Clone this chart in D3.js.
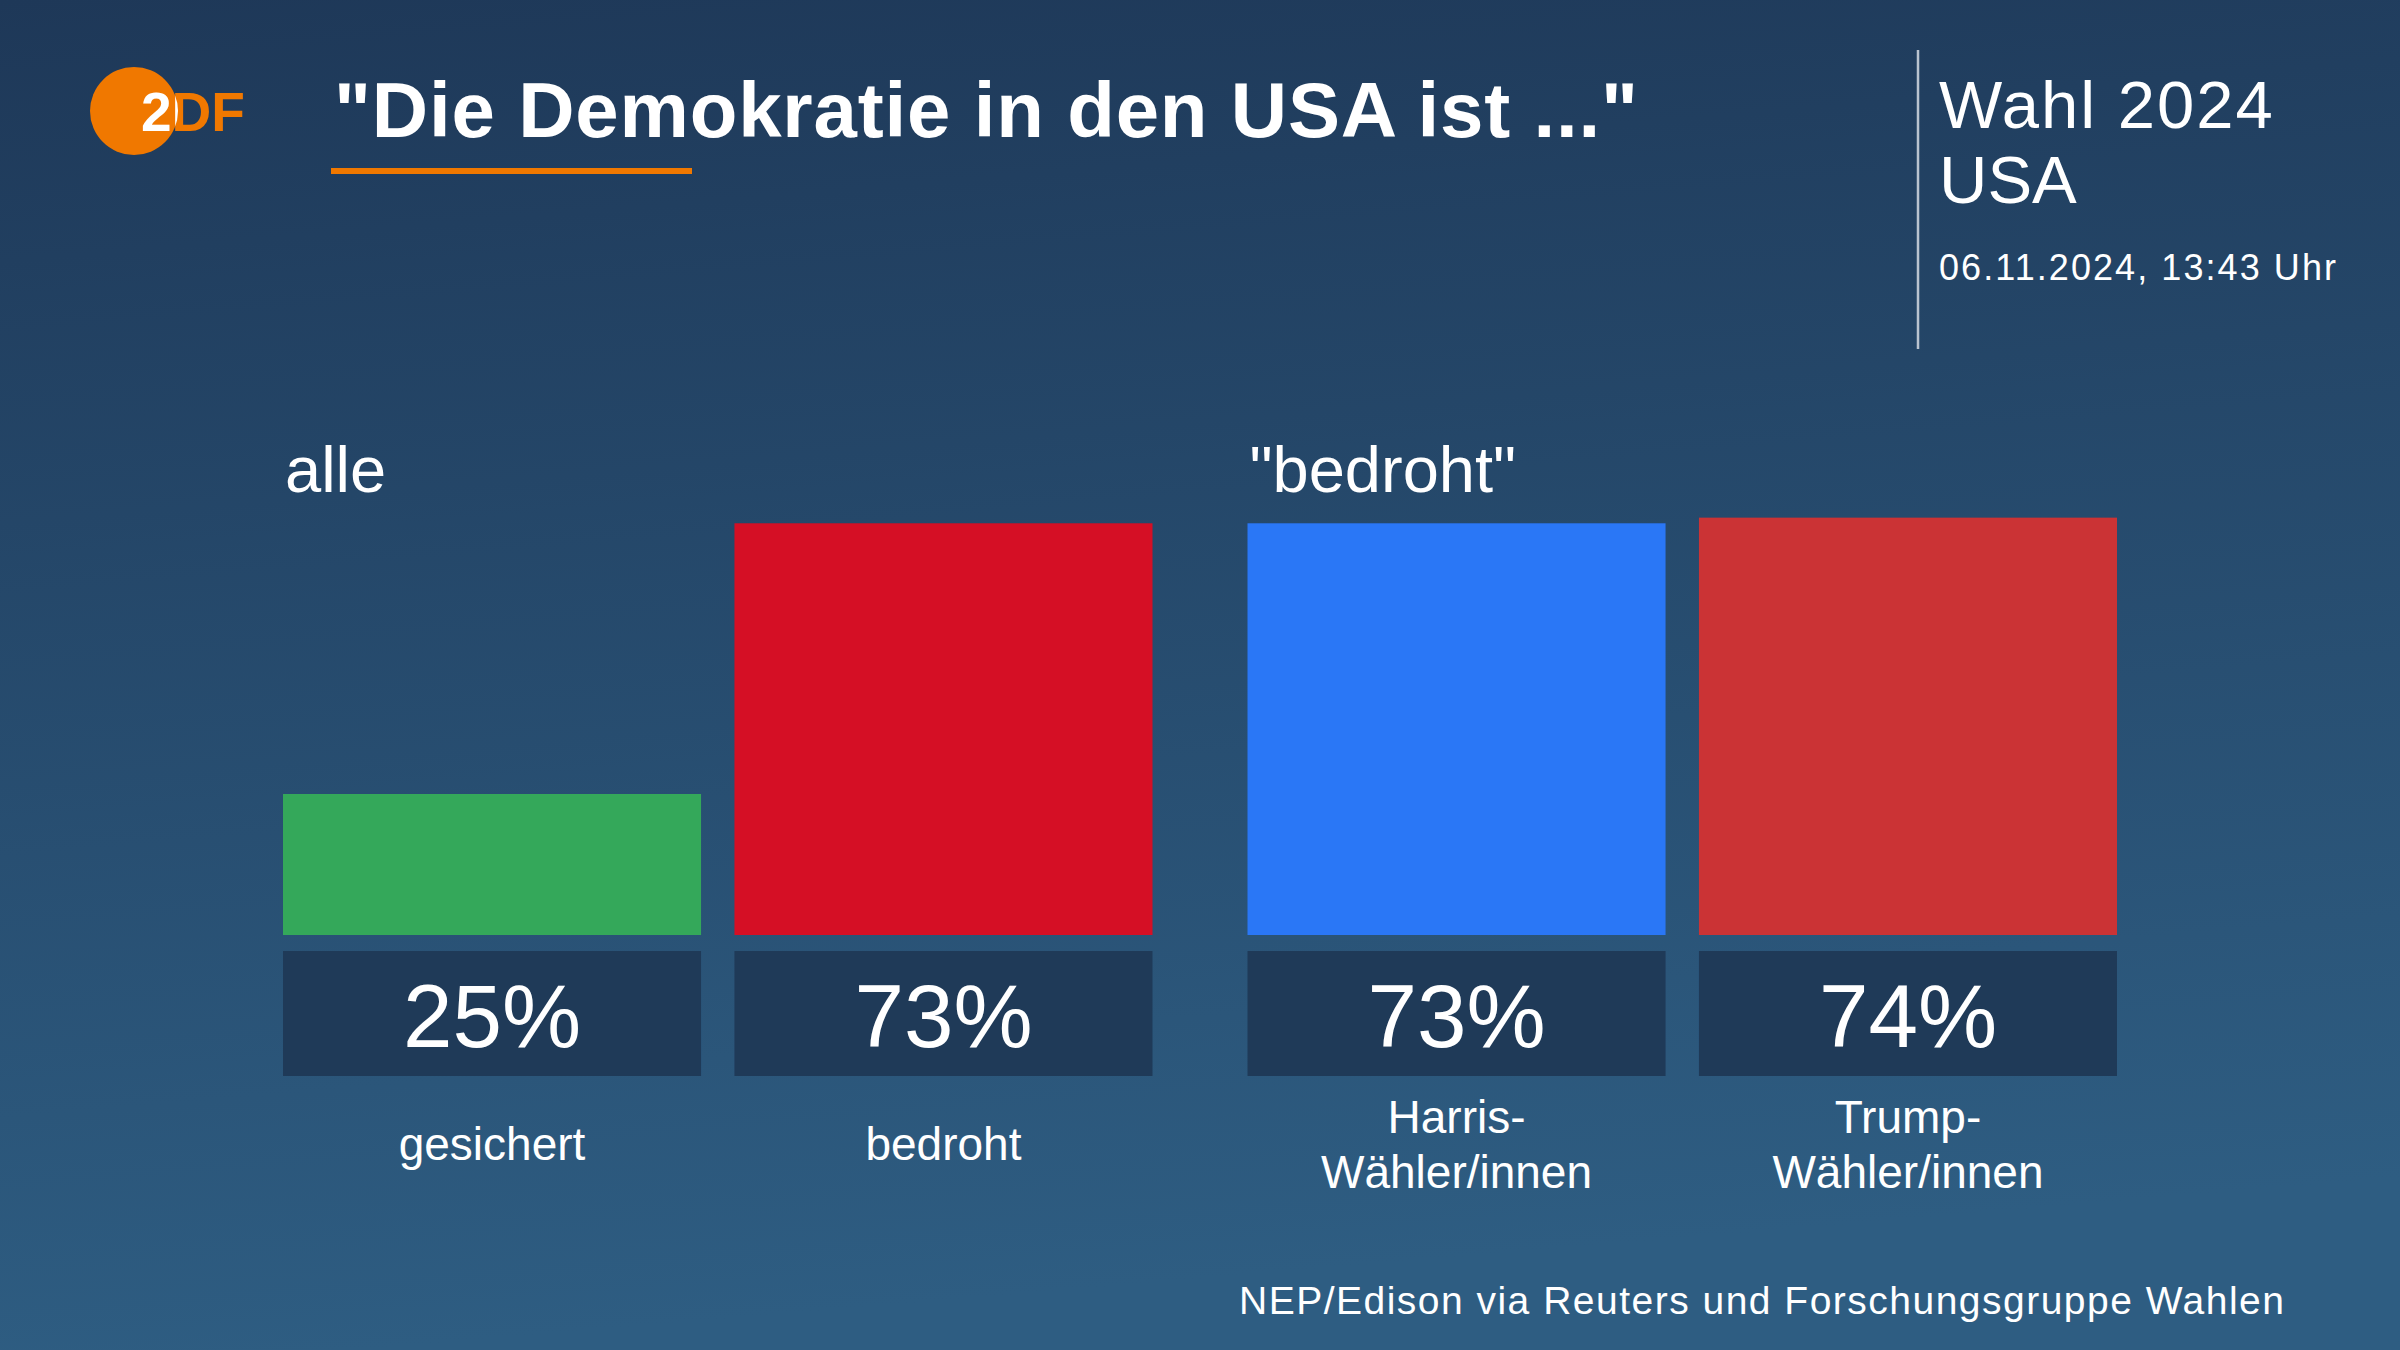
<!DOCTYPE html>
<html><head><meta charset="utf-8">
<script src="https://cdn.jsdelivr.net/npm/d3@7"></script>
<style>
html,body{margin:0;padding:0;background:#1f3a59;}
svg{display:block;}
</style></head>
<body>
<script>
// ---- data ----
const groups = ["alle", "\"bedroht\""];
const categories = ["gesichert", "bedroht", "Harris-|Wähler/innen", "Trump-|Wähler/innen"];
const categoryGroup = ["alle", "alle", "\"bedroht\"", "\"bedroht\""];
const values = [25, 73, 73, 74];
const barColors = ["#34a85a", "#d50f25", "#2a77f6", "#cb3335"];
const title = "\"Die Demokratie in den USA ist ...\"";
const headerLines = ["Wahl 2024", "USA"];
const dateText = "06.11.2024, 13:43 Uhr";
const sourceText = "NEP/Edison via Reuters und Forschungsgruppe Wahlen";

const W = 2400, H = 1350;
const svg = d3.select("body").append("svg").attr("width", W).attr("height", H);
const defs = svg.append("defs");
const grad = defs.append("linearGradient").attr("id", "bg").attr("x1", 0).attr("y1", 0).attr("x2", 0.15).attr("y2", 1);
grad.append("stop").attr("offset", "0%").attr("stop-color", "#1e3858");
grad.append("stop").attr("offset", "100%").attr("stop-color", "#2e5d82");
svg.append("rect").attr("width", W).attr("height", H).attr("fill", "url(#bg)");

const FONT = "'Liberation Sans', Arial, sans-serif";

// ---- logo ----
const logo = svg.append("g");
defs.append("clipPath").attr("id", "circ").append("circle").attr("cx", 134).attr("cy", 111).attr("r", 44);
logo.append("circle").attr("cx", 134).attr("cy", 111).attr("r", 44).attr("fill", "#f07800");
[["#f07800", null], ["#ffffff", "url(#circ)"]].forEach(([fill, clip]) => {
  logo.append("text").attr("x", 141).attr("y", 131).attr("font-family", FONT).attr("font-weight", 700)
    .attr("font-size", 55).attr("fill", fill).attr("clip-path", clip)
    .attr("textLength", 104).attr("lengthAdjust", "spacingAndGlyphs").text("2DF");
});

// ---- title ----
svg.append("text").attr("x", 334).attr("y", 137).attr("font-family", FONT).attr("font-weight", 700)
  .attr("font-size", 78).attr("fill", "#ffffff").attr("textLength", 1304).attr("lengthAdjust", "spacing").text(title);
svg.append("rect").attr("x", 331).attr("y", 168).attr("width", 361).attr("height", 6).attr("fill", "#f07800");

// ---- header right ----
svg.append("line").attr("x1", 1918).attr("x2", 1918).attr("y1", 50).attr("y2", 349)
  .attr("stroke", "#b9c3cf").attr("stroke-width", 2.5);
svg.selectAll("text.hdr").data(headerLines).join("text").attr("class", "hdr")
  .attr("x", 1939).attr("y", (d, i) => 128 + i * 75).attr("font-family", FONT)
  .attr("font-size", 67).attr("letter-spacing", (d, i) => i === 0 ? 2 : 0)
  .attr("fill", "#ffffff").text(d => d);
svg.append("text").attr("x", 1939).attr("y", 280).attr("font-family", FONT)
  .attr("font-size", 36).attr("fill", "#ffffff").attr("textLength", 397).attr("lengthAdjust", "spacing").text(dateText);

// ---- scales ----
const xGroup = d3.scaleBand().domain(groups).range([283, 2117]).paddingInner(0.0985);
const xInner = d3.scaleBand().domain([0, 1]).range([0, xGroup.bandwidth()]).paddingInner(0.074);
const y = d3.scaleLinear().domain([0, 100]).range([935, 371]);
const rows = categories.map((c, i) => ({c, v: values[i], g: categoryGroup[i], k: categoryGroup.slice(0, i).filter(g => g === categoryGroup[i]).length, color: barColors[i]}));
const bx = d => xGroup(d.g) + xInner(d.k);
const bw = xInner.bandwidth();

// group labels
svg.selectAll("text.grp").data(groups).join("text").attr("class", "grp")
  .attr("x", d => xGroup(d) + 2).attr("y", 492).attr("font-family", FONT)
  .attr("font-size", 65).attr("fill", "#ffffff").text(d => d);

// bars
svg.selectAll("rect.bar").data(rows).join("rect").attr("class", "bar")
  .attr("x", bx).attr("width", bw).attr("y", d => y(d.v)).attr("height", d => y(0) - y(d.v))
  .attr("fill", d => d.color);

// value boxes
svg.selectAll("rect.vbox").data(rows).join("rect").attr("class", "vbox")
  .attr("x", bx).attr("width", bw).attr("y", 951).attr("height", 125).attr("fill", "#1f3a58");
svg.selectAll("text.val").data(rows).join("text").attr("class", "val")
  .attr("x", d => bx(d) + bw / 2).attr("y", 1047).attr("text-anchor", "middle")
  .attr("font-family", FONT).attr("font-size", 89).attr("fill", "#ffffff").text(d => d.v + "%");

// category labels
const cat = svg.selectAll("text.cat").data(rows).join("text").attr("class", "cat")
  .attr("text-anchor", "middle").attr("font-family", FONT).attr("font-size", 46).attr("fill", "#ffffff");
cat.each(function(d) {
  const lines = d.c.split("|");
  const t = d3.select(this);
  const y0 = 1160 - (lines.length - 1) * 55 / 2;
  lines.forEach((l, i) => t.append("tspan").attr("x", bx(d) + bw / 2).attr("y", y0 + i * 55).text(l));
});

// source
svg.append("text").attr("x", 1239).attr("y", 1314).attr("font-family", FONT)
  .attr("font-size", 39).attr("fill", "#ffffff").attr("textLength", 1045).attr("lengthAdjust", "spacing").text(sourceText);
</script>
</body></html>
